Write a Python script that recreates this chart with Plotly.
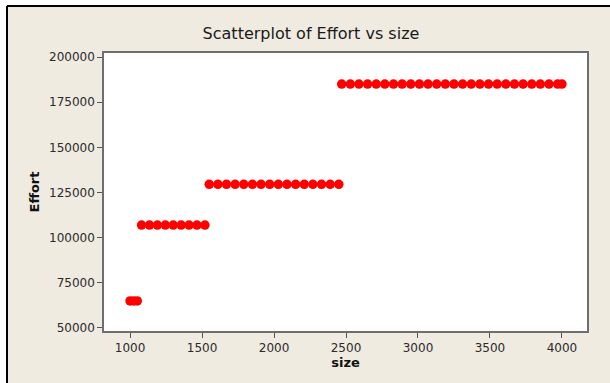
import plotly.graph_objects as go

# ---- data ----
size_vals = [1000, 1025, 1050,
             1080, 1135, 1190, 1245, 1300, 1355, 1410, 1465, 1520,
             1550, 1610, 1670, 1730, 1790, 1850, 1910, 1970, 2030, 2090,
             2150, 2210, 2270, 2330, 2390, 2450,
             2470, 2530, 2590, 2650, 2710, 2770, 2830, 2890, 2950, 3010,
             3070, 3130, 3190, 3250, 3310, 3370, 3430, 3490, 3550, 3610,
             3670, 3730, 3790, 3850, 3910, 3970, 4000]
effort_vals = [65000] * 3 + [107000] * 9 + [129500] * 16 + [185000] * 27

x_ticks = [1000, 1500, 2000, 2500, 3000, 3500, 4000]
y_ticks = [50000, 75000, 100000, 125000, 150000, 175000, 200000]
y_tick_labels = ["50000", "75000", "100000", "125000", "150000", "175000", "200000"]

W, H = 610, 383
L, R, T, B = 104, 587, 53, 331

def px(x):
    return (x - L) / (R - L)

def py(y):
    return (B - y) / (B - T)

fig = go.Figure()
fig.add_trace(go.Scatter(
    x=size_vals, y=effort_vals, mode="markers",
    marker=dict(color="#FF0000", size=9.5, symbol="circle", line=dict(width=0)),
    showlegend=False,
))

font_fam = "DejaVu Sans, Verdana, sans-serif"
tick_font = dict(family="DejaVu Sans, Verdana, sans-serif", size=12, color="#2a2a2a")

fig.update_layout(
    width=W, height=H,
    margin=dict(l=L, r=W - R, t=T, b=H - B, pad=0, autoexpand=False),
    paper_bgcolor="#EFEBE1",
    plot_bgcolor="#FFFFFF",
    title=dict(text="Scatterplot of Effort vs size", x=311 / W, xref="container",
               xanchor="center", y=1 - 33 / H, yref="container", yanchor="middle",
               font=dict(family=font_fam, size=16, color="#1a1a1a")),
    xaxis=dict(range=[819, 4174], tickvals=x_ticks, ticks="outside", ticklen=5,
               tickcolor="#555555", tickfont=tick_font, showgrid=False, zeroline=False,
               showline=True, linecolor="#6e6e6e", linewidth=1.5, mirror=True,
               automargin=False,
               title=dict(text="<b>size</b>", standoff=4,
                          font=dict(family=font_fam, size=13, color="#111111"))),
    yaxis=dict(range=[48333, 202222], tickvals=y_ticks, ticktext=y_tick_labels,
               ticks="outside", ticklen=5, tickcolor="#555555", tickfont=tick_font,
               showgrid=False, zeroline=False, automargin=False,
               showline=True, linecolor="#6e6e6e", linewidth=1.5, mirror=True,
               title=dict(text="<b>Effort</b>", standoff=6,
                          font=dict(family=font_fam, size=13, color="#111111"))),
    shapes=[
        # white outer margins
        dict(type="rect", xref="paper", yref="paper", x0=px(0), x1=px(7), y0=py(H), y1=py(0),
             fillcolor="#FFFFFF", line=dict(width=0), layer="below"),
        dict(type="rect", xref="paper", yref="paper", x0=px(0), x1=px(W), y0=py(6), y1=py(0),
             fillcolor="#FFFFFF", line=dict(width=0), layer="below"),
        # black frame lines
        dict(type="line", xref="paper", yref="paper", x0=px(7), x1=px(7), y0=py(H), y1=py(6),
             line=dict(color="#000000", width=2)),
        dict(type="line", xref="paper", yref="paper", x0=px(7), x1=px(W), y0=py(6), y1=py(6),
             line=dict(color="#000000", width=2)),
    ],
)

fig.write_html("out.html", config={"displayModeBar": False},
               post_script="document.body.style.margin='0';document.body.style.overflow='hidden';")
